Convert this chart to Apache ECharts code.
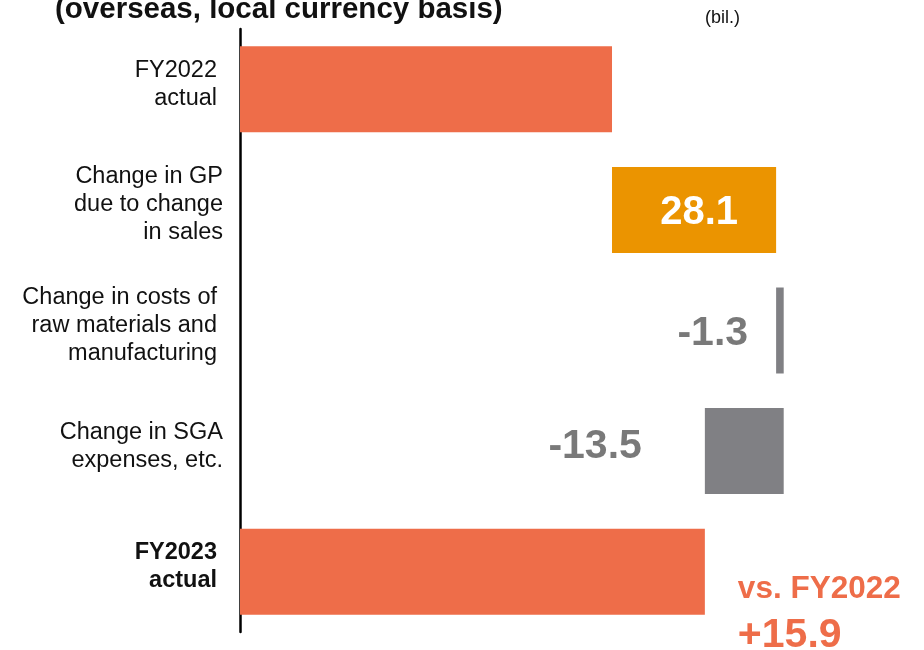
<!DOCTYPE html>
<html>
<head>
<meta charset="utf-8">
<script src="https://cdn.jsdelivr.net/npm/echarts@6/dist/echarts.min.js"></script>
<style>
html,body{margin:0;padding:0;background:#fff;}
#chart{width:924px;height:650px;}
</style>
</head>
<body>
<div id="chart"></div>
<script>
// ---- data ----
const categories = [
  'FY2022\nactual',
  'Change in GP\ndue to change\nin sales',
  'Change in costs of\nraw materials and\nmanufacturing',
  'Change in SGA\nexpenses, etc.',
  'FY2023\nactual'
];
const fy2022 = 63.7;
const fy2023 = 79.6;
const changeLabels = ['', '28.1', '-1.3', '-13.5', ''];
// bar extents as drawn in the reference (invisible offset + visible length)
const barOffset = [0, 63.7, 91.8, 79.6, 0];
const barLength = [63.7, 28.1, 1.3, 13.5, 79.6];
const titleText = '(overseas, local currency basis)';
const unitText = '(bil.)';

const barColors = ['#EE6D49', '#EB9400', '#808084', '#808084', '#EE6D49'];
const labelStyles = ['n', 'w', 'n', 'w', 'b'];

const chart = echarts.init(document.getElementById('chart'), null, {renderer: 'canvas'});

const FONT = '"Liberation Sans", Arial, sans-serif';

const visibleData = barLength.map((v, i) => {
  const item = {value: v, itemStyle: {color: barColors[i]}};
  if (i === 1) {
    item.label = {show: true, position: 'inside', formatter: changeLabels[i],
      color: '#fff', fontSize: 40, fontWeight: 'bold', fontFamily: FONT, offset: [5, 3]};
  } else if (i === 2) {
    item.label = {show: true, position: 'left', distance: 28, formatter: changeLabels[i],
      color: '#797979', fontSize: 41, fontWeight: 'bold', fontFamily: FONT, offset: [0, 3]};
  } else if (i === 3) {
    item.label = {show: true, position: 'left', distance: 63, formatter: changeLabels[i],
      color: '#797979', fontSize: 41, fontWeight: 'bold', fontFamily: FONT, offset: [0, -4]};
  } else if (i === 4) {
    const diff = (fy2023 - fy2022).toFixed(1);
    item.label = {show: true, position: 'right', distance: 33,
      formatter: '{a|vs. FY2022}\n{b|+' + diff + '}',
      offset: [0, 42], align: 'left',
      rich: {
        a: {fontSize: 31.5, fontWeight: 'bold', color: '#EE6D49', fontFamily: FONT, lineHeight: 44},
        b: {fontSize: 41, fontWeight: 'bold', color: '#EE6D49', fontFamily: FONT, lineHeight: 48}
      }};
  }
  return item;
});

const option = {
  backgroundColor: '#fff',
  animation: false,
  grid: {left: 240, right: 100, top: 29, bottom: 18, containLabel: false},
  xAxis: {type: 'value', min: 0, max: 100, show: false},
  yAxis: {
    type: 'category', inverse: true, data: categories,
    axisLine: {show: true, lineStyle: {color: '#000', width: 2.5}},
    axisTick: {show: false},
    axisLabel: {
      margin: 17,
      formatter: function (v) {
        const idx = categories.indexOf(v);
        const s = labelStyles[idx];
        return v.split('\n').map(l => '{' + s + '|' + l + '}').join('\n');
      },
      rich: {
        n: {fontSize: 23.5, color: '#111', fontFamily: FONT, lineHeight: 28, padding: [0, 6, 0, 0]},
        w: {fontSize: 23.5, color: '#111', fontFamily: FONT, lineHeight: 28},
        b: {fontSize: 23.5, color: '#111', fontFamily: FONT, fontWeight: 'bold', lineHeight: 28, padding: [0, 6, 0, 0]}
      },
      padding: [0, 0, 10, 0]
    }
  },
  series: [
    {type: 'bar', stack: 'w', data: barOffset, barWidth: 86,
      itemStyle: {color: 'transparent'}, silent: true},
    {type: 'bar', stack: 'w', data: visibleData, barWidth: 86}
  ],
  graphic: [
    {type: 'text', left: 55, top: -5, style: {text: titleText, fontSize: 29.5, fontWeight: 'bold',
      fontFamily: FONT, fill: '#111'}},
    {type: 'text', left: 705, top: 9, style: {text: unitText, fontSize: 18,
      fontFamily: FONT, fill: '#111'}}
  ]
};
chart.setOption(option);
</script>
</body>
</html>
